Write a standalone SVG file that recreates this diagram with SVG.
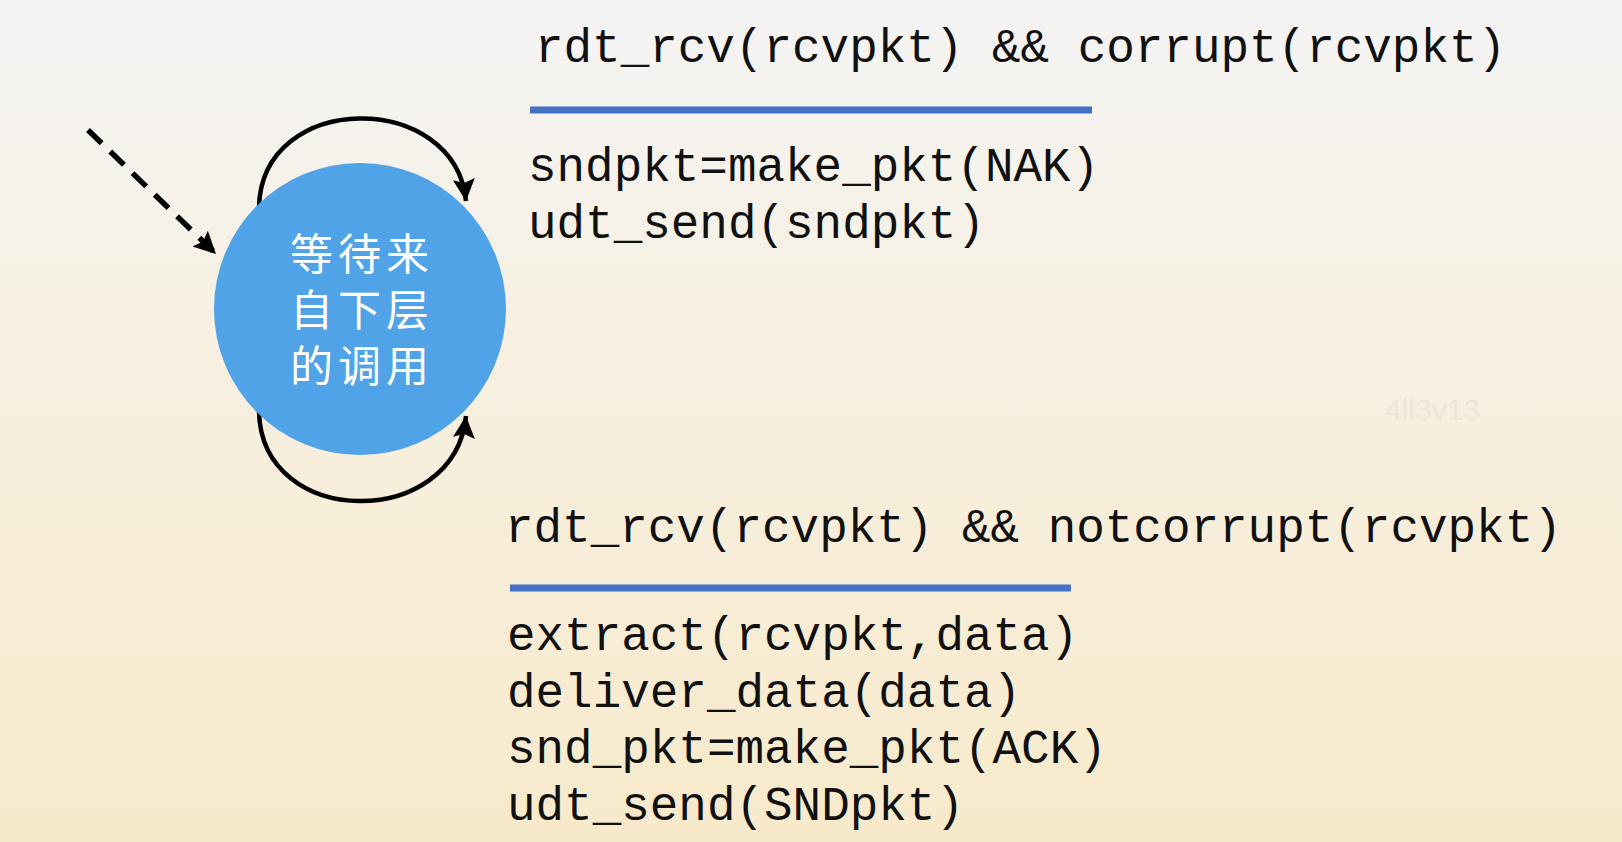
<svg xmlns="http://www.w3.org/2000/svg" width="1622" height="842" viewBox="0 0 1622 842">
  <defs>
    <linearGradient id="bg" x1="0" y1="0" x2="0" y2="1">
      <stop offset="0" stop-color="#f4f4f4"/>
      <stop offset="0.35" stop-color="#f7f1e4"/>
      <stop offset="1" stop-color="#f7eacb"/>
    </linearGradient>
    <marker id="arrow" markerUnits="userSpaceOnUse" markerWidth="26" markerHeight="24" refX="22" refY="11" orient="auto">
      <path d="M0,0 L22,11 L0,22 L4,11 Z" fill="#000"/>
    </marker>
    <style>
      .code { font-family: "Courier New", "Liberation Mono", monospace; font-size: 47.6px; fill: #111; }
      .cjk { font-family: "Noto Sans CJK SC", sans-serif; font-size: 43px; fill: #fff; letter-spacing: 5px; text-anchor: middle; }
      .bar { stroke: #4472c4; stroke-width: 7; }
      .edge { fill: none; stroke: #000; stroke-width: 4.5; }
      .dashed { stroke-width: 5.5; stroke-dasharray: 19 12; }
    </style>
  </defs>
  <rect x="0" y="0" width="1622" height="842" fill="url(#bg)"/>
  <text x="1385" y="420" font-family="Liberation Sans, Arial, sans-serif" font-size="30" fill="#ebe6da">4ll3v13</text>

  <g id="connectors">
    <path class="edge dashed" d="M88,130 L216,254" marker-end="url(#arrow)"/>
    <path class="edge" d="M259,207 C262,90 455,90 466,201" marker-end="url(#arrow)"/>
    <path class="edge" d="M259,412 C262,530 455,530 466,416" marker-end="url(#arrow)"/>
  </g>

  <g id="state-wait">
    <circle cx="360" cy="309" r="146" fill="#50a3e7"/>
    <text class="cjk" x="362" y="270">等待来</text>
    <text class="cjk" x="362" y="326">自下层</text>
    <text class="cjk" x="362" y="382">的调用</text>
  </g>

  <g id="label-corrupt">
    <text class="code" x="535" y="62">rdt_rcv(rcvpkt) &amp;&amp; corrupt(rcvpkt)</text>
    <line class="bar" x1="530" y1="110" x2="1092" y2="110"/>
    <text class="code" x="528" y="181">sndpkt=make_pkt(NAK)</text>
    <text class="code" x="528" y="238">udt_send(sndpkt)</text>
  </g>

  <g id="label-notcorrupt">
    <text class="code" x="505" y="542">rdt_rcv(rcvpkt) &amp;&amp; notcorrupt(rcvpkt)</text>
    <line class="bar" x1="510" y1="588" x2="1071" y2="588"/>
    <text class="code" x="507" y="650">extract(rcvpkt,data)</text>
    <text class="code" x="507" y="707">deliver_data(data)</text>
    <text class="code" x="507" y="763">snd_pkt=make_pkt(ACK)</text>
    <text class="code" x="507" y="820">udt_send(SNDpkt)</text>
  </g>
</svg>
